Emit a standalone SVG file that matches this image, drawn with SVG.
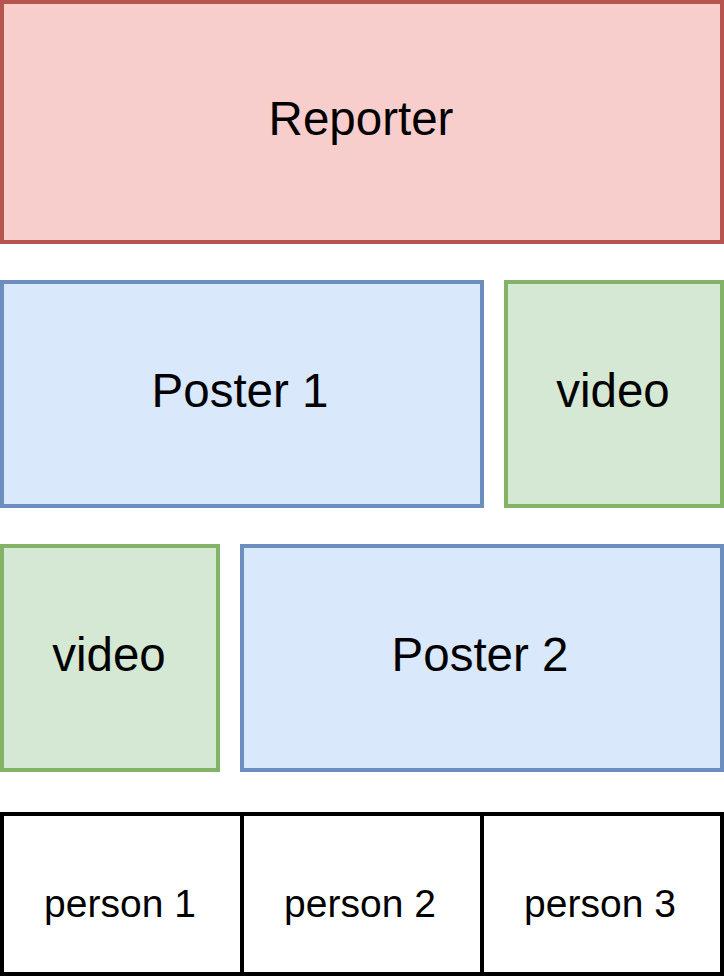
<svg xmlns="http://www.w3.org/2000/svg" width="724" height="976" viewBox="0 0 724 976">
<style>
rect{stroke-width:4}
.red{fill:#f8cecc;stroke:#b85450}
.blue{fill:#dae8fc;stroke:#6c8ebf}
.green{fill:#d5e8d4;stroke:#82b366}
.plain{fill:#ffffff;stroke:#000000}
text{font-family:"Liberation Sans",Arial,sans-serif;fill:#000;text-anchor:middle}
.big{font-size:47.5px}
.small{font-size:39px}
</style>
<rect x="0" y="0" width="724" height="976" fill="#ffffff" stroke="none"/>
<g id="reporter"><rect class="red" x="2" y="2" width="720" height="240"/><text class="big" x="361" y="135">Reporter</text></g>
<g id="poster1"><rect class="blue" x="2" y="282" width="480" height="224"/><text class="big" x="240" y="407">Poster 1</text></g>
<g id="video1"><rect class="green" x="506" y="282" width="216" height="224"/><text class="big" x="613" y="407">video</text></g>
<g id="video2"><rect class="green" x="2" y="546" width="216" height="224"/><text class="big" x="109" y="671">video</text></g>
<g id="poster2"><rect class="blue" x="242" y="546" width="480" height="224"/><text class="big" x="480" y="671">Poster 2</text></g>
<g id="person1"><rect class="plain" x="2" y="814" width="240" height="160"/><text class="small" x="120" y="917">person 1</text></g>
<g id="person2"><rect class="plain" x="242" y="814" width="240" height="160"/><text class="small" x="360" y="917">person 2</text></g>
<g id="person3"><rect class="plain" x="482" y="814" width="240" height="160"/><text class="small" x="600" y="917">person 3</text></g>
<g id="connectors"></g>
</svg>
